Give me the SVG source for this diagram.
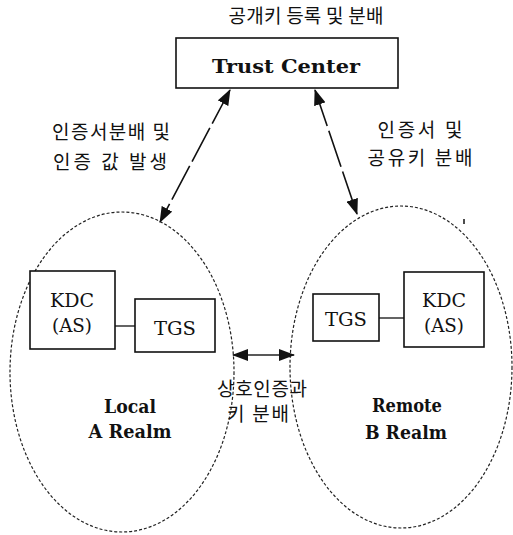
<svg xmlns="http://www.w3.org/2000/svg" width="513" height="535" viewBox="0 0 513 535">
  <style>
    .box { fill: #fff; stroke: #111; stroke-width: 1.6; }
    .realm { fill: none; stroke: #222; stroke-width: 1.2; stroke-dasharray: 3 2; }
    .link { stroke: #222; stroke-width: 1.4; fill: none; }
    .arrow { stroke: #111; stroke-width: 1.6; fill: none; stroke-dasharray: 38 5; }
    .ko { font-family: 'Noto Sans CJK KR', 'Noto Sans', sans-serif; font-size: 19px; fill: #111; text-anchor: middle; }
    .en { font-family: 'DejaVu Serif', 'Liberation Serif', serif; font-size: 19px; fill: #111; text-anchor: middle; }
    .enb { font-family: 'DejaVu Serif', 'Liberation Serif', serif; font-size: 19px; font-weight: bold; fill: #111; text-anchor: middle; }
  </style>
  <defs>
    <marker id="head" viewBox="0 0 16 12" refX="15" refY="6" markerWidth="16" markerHeight="12" markerUnits="userSpaceOnUse" orient="auto-start-reverse">
      <path d="M0,0 L16,6 L0,12 Z" fill="#111"/>
    </marker>
  </defs>

  <!-- realm boundaries -->
  <g id="local-realm">
    <ellipse class="realm" cx="122" cy="372" rx="112" ry="160"/>
    <text class="enb" x="130" y="413" textLength="52" lengthAdjust="spacingAndGlyphs">Local</text>
    <text class="enb" x="130" y="438" textLength="83" lengthAdjust="spacingAndGlyphs">A Realm</text>
  </g>
  <g id="remote-realm">
    <ellipse class="realm" cx="401" cy="367" rx="111" ry="161"/>
    <text class="enb" x="407" y="412" textLength="70" lengthAdjust="spacingAndGlyphs">Remote</text>
    <text class="enb" x="406" y="439" textLength="82" lengthAdjust="spacingAndGlyphs">B Realm</text>
  </g>

  <!-- connectors -->
  <g id="connectors">
    <line class="arrow" x1="230" y1="90" x2="160" y2="222" marker-start="url(#head)" marker-end="url(#head)"/>
    <line class="arrow" x1="315" y1="90" x2="357" y2="214" marker-start="url(#head)" marker-end="url(#head)"/>
    <line class="link" x1="233" y1="355" x2="294" y2="355" marker-start="url(#head)" marker-end="url(#head)"/>
    <line class="link" x1="115" y1="326" x2="135" y2="326"/>
    <line class="link" x1="379" y1="318" x2="404" y2="318"/>
  </g>

  <!-- Trust Center -->
  <g id="trust-center">
    <text class="ko" x="306" y="23" textLength="155" lengthAdjust="spacing">공개키 등록 및 분배</text>
    <rect class="box" x="176" y="38" width="222" height="50"/>
    <text class="enb" x="286" y="73" font-size="21" textLength="148" lengthAdjust="spacingAndGlyphs">Trust Center</text>
  </g>

  <!-- edge labels -->
  <g id="label-left">
    <text class="ko" x="111" y="139" textLength="118" lengthAdjust="spacing">인증서분배 및</text>
    <text class="ko" x="110" y="169" textLength="114" lengthAdjust="spacing">인증 값 발생</text>
  </g>
  <g id="label-right">
    <text class="ko" x="420" y="137" textLength="85" lengthAdjust="spacing">인증서 및</text>
    <text class="ko" x="420" y="165" textLength="105" lengthAdjust="spacing">공유키 분배</text>
  </g>
  <g id="label-mutual">
    <text class="ko" x="262" y="396" textLength="90" lengthAdjust="spacing">상호인증과</text>
    <text class="ko" x="258" y="421" textLength="62" lengthAdjust="spacing">키 분배</text>
  </g>

  <!-- Local realm servers -->
  <g id="local-kdc">
    <rect class="box" x="30" y="271" width="85" height="78"/>
    <text class="en" x="72" y="307" textLength="44" lengthAdjust="spacingAndGlyphs">KDC</text>
    <text class="en" x="72" y="332" textLength="40" lengthAdjust="spacingAndGlyphs">(AS)</text>
  </g>
  <g id="local-tgs">
    <rect class="box" x="135" y="299" width="80" height="53"/>
    <text class="en" x="175" y="335" textLength="42" lengthAdjust="spacingAndGlyphs">TGS</text>
  </g>

  <!-- Remote realm servers -->
  <g id="remote-tgs">
    <rect class="box" x="313" y="294" width="66" height="47"/>
    <text class="en" x="346" y="326" textLength="42" lengthAdjust="spacingAndGlyphs">TGS</text>
  </g>
  <g id="remote-kdc">
    <rect class="box" x="404" y="272" width="80" height="75"/>
    <text class="en" x="444" y="307" textLength="44" lengthAdjust="spacingAndGlyphs">KDC</text>
    <text class="en" x="444" y="332" textLength="40" lengthAdjust="spacingAndGlyphs">(AS)</text>
  </g>

  <line x1="464" y1="219" x2="464" y2="224" stroke="#111" stroke-width="1.5"/>
</svg>
